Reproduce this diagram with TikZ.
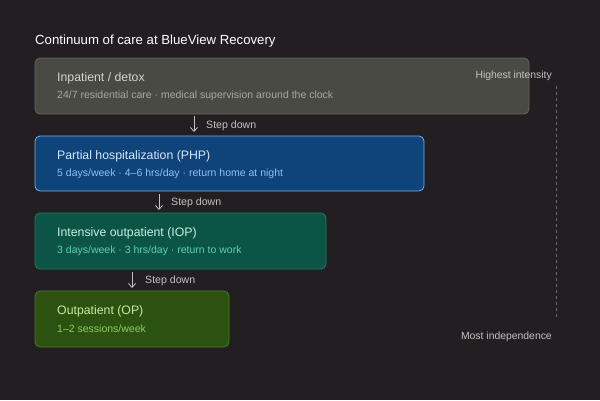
\documentclass[tikz,border=0pt]{standalone}
\usepackage{fontspec}
\setmainfont{Liberation Sans}
\usetikzlibrary{arrows.meta}
\definecolor{bg}{HTML}{221E22}
\definecolor{ipfill}{HTML}{4A4A45}
\definecolor{ipdraw}{HTML}{64645E}
\definecolor{iptitle}{HTML}{D4D4CC}
\definecolor{ipsub}{HTML}{A8A8A0}
\definecolor{phpfill}{HTML}{0E4479}
\definecolor{phpdraw}{HTML}{78B0E8}
\definecolor{phptitle}{HTML}{D6E6F8}
\definecolor{phpsub}{HTML}{8EC0F0}
\definecolor{iopfill}{HTML}{0B5446}
\definecolor{iopdraw}{HTML}{1E7E62}
\definecolor{ioptitle}{HTML}{C6F0E0}
\definecolor{iopsub}{HTML}{5ED2A8}
\definecolor{opfill}{HTML}{2B5211}
\definecolor{opdraw}{HTML}{4C7E22}
\definecolor{optitle}{HTML}{CBE9A2}
\definecolor{opsub}{HTML}{92CA5E}
\definecolor{muted}{HTML}{C4C2C0}
\definecolor{dashc}{HTML}{6A686A}
\tikzset{
  x=1pt, y=-1pt,
  tierbox/.style={rounded corners=5pt, line width=0.8pt},
  tiertitle/.style={anchor=west, inner sep=0pt, font=\fontsize{12.3}{14}\selectfont},
  tiersub/.style={anchor=west, inner sep=0pt, font=\fontsize{10.5}{12}\selectfont},
  steparrow/.style={-{Straight Barb[length=4pt,width=7pt]}, line width=0.8pt, draw=muted},
  steplabel/.style={anchor=west, inner sep=0pt, text=muted, font=\fontsize{10.6}{12}\selectfont},
  sidelabel/.style={anchor=east, inner sep=0pt, text=muted, font=\fontsize{10.4}{12}\selectfont},
}
\begin{document}
\begin{tikzpicture}
\fill[bg] (0,0) rectangle (600,400);
\useasboundingbox (0,0) rectangle (600,400);

\node[anchor=west, inner sep=0pt, text=white, font=\fontsize{13.2}{15}\selectfont] (title) at (35,41.5) {Continuum of care at BlueView Recovery};

% tier boxes
\draw[tierbox, fill=ipfill, draw=ipdraw] (35,58) rectangle (529,114);
\node[tiertitle, text=iptitle] (ipt) at (57,78) {Inpatient / detox};
\node[tiersub, text=ipsub] (ips) at (57,95.5) {24/7 residential care · medical supervision around the clock};

\draw[tierbox, fill=phpfill, draw=phpdraw] (35,136) rectangle (424,191);
\node[tiertitle, text=phptitle] (phpt) at (57,156) {Partial hospitalization (PHP)};
\node[tiersub, text=phpsub] (phps) at (57,173.5) {5 days/week · 4–6 hrs/day · return home at night};

\draw[tierbox, fill=iopfill, draw=iopdraw] (35,213) rectangle (326,269);
\node[tiertitle, text=ioptitle] (iopt) at (57,233) {Intensive outpatient (IOP)};
\node[tiersub, text=iopsub] (iops) at (57,250.5) {3 days/week · 3 hrs/day · return to work};

\draw[tierbox, fill=opfill, draw=opdraw] (35,291) rectangle (229,347);
\node[tiertitle, text=optitle] (opt) at (57,311) {Outpatient (OP)};
\node[tiersub, text=opsub] (ops) at (57,328.5) {1–2 sessions/week};

% step-down arrows
\coordinate (a1s) at (194,116); \coordinate (a1e) at (194,132);
\draw[steparrow] (a1s) -- (a1e);
\node[steplabel] (s1) at (206,125.5) {Step down};
\coordinate (a2s) at (159,194); \coordinate (a2e) at (159,210);
\draw[steparrow] (a2s) -- (a2e);
\node[steplabel] (s2) at (171,202.5) {Step down};
\coordinate (a3s) at (132,272); \coordinate (a3e) at (132,288);
\draw[steparrow] (a3s) -- (a3e);
\node[steplabel] (s3) at (145,280.5) {Step down};

% intensity scale
\node[sidelabel] (hi) at (552,75.5) {Highest intensity};
\node[sidelabel] (lo) at (552,336.5) {Most independence};
\coordinate (d1) at (556,86); \coordinate (d2) at (556,318);
\draw[dashc, dashed, dash pattern=on 3pt off 3pt, line width=0.8pt] (d1) -- (d2);
\end{tikzpicture}
\end{document}
